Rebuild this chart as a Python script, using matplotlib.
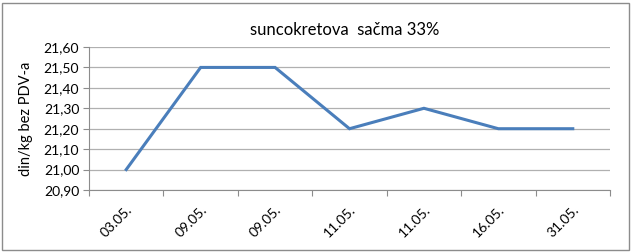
import matplotlib.pyplot as plt
from matplotlib.patches import Rectangle

dates = ['03.05.', '09.05.', '09.05.', '11.05.', '11.05.', '16.05.', '31.05.']
prices = [21.00, 21.50, 21.50, 21.20, 21.30, 21.20, 21.20]
yticks = [20.90, 21.00, 21.10, 21.20, 21.30, 21.40, 21.50, 21.60]

plt.rcParams['font.family'] = ['Lato', 'DejaVu Sans']

fig = plt.figure(figsize=(6.31, 2.52), dpi=100)
ax = fig.add_axes([89 / 631, 1 - 190 / 252, 521 / 631, 143 / 252])

x = [i + 0.5 for i in range(len(dates))]
ax.plot(x, prices, color='#4a7ebb', lw=2.2, solid_joinstyle='miter')

ax.set_xlim(0, len(dates))
ax.set_ylim(20.90, 21.60)
ax.set_yticks(yticks)
ax.set_yticklabels([f'{v:.2f}'.replace('.', ',') for v in yticks], fontsize=10)
ax.set_xticks(range(len(dates) + 1))
ax.set_xticklabels([])
ax.set_xticks(x, minor=True)
ax.set_xticklabels(dates, minor=True, rotation=45, ha='right', va='top',
                   rotation_mode='anchor', fontsize=10)
ax.tick_params(axis='x', which='minor', length=0, pad=10)
ax.tick_params(axis='x', which='major', length=4, color='#8c8c8c')
ax.tick_params(axis='y', length=4, color='#8c8c8c', pad=3)
ax.grid(axis='y', color='#b0b0b0', lw=0.9)
ax.set_axisbelow(True)
for s in ['top', 'right']:
    ax.spines[s].set_visible(False)
for s in ['left', 'bottom']:
    ax.spines[s].set_color('#8c8c8c')

ax.set_ylabel('din/kg bez PDV-a', fontsize=10.5, labelpad=8)
fig.text(345 / 631, 1 - 30 / 252, 'suncokretova  sačma 33%', ha='center',
         va='center', fontsize=12)

fig.patches.append(Rectangle((2 / 631, 2 / 252), 627 / 631, 247 / 252,
                             transform=fig.transFigure, fill=False,
                             edgecolor='#8c8c8c', lw=1))

fig.savefig('out.png', dpi=100)
